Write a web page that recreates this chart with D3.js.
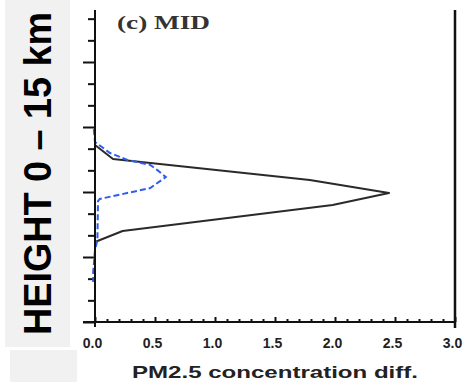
<!DOCTYPE html>
<html>
<head>
<meta charset="utf-8">
<script src="https://cdn.jsdelivr.net/npm/d3@7"></script>
<style>
  html, body { margin: 0; padding: 0; background: #fff; }
  svg { display: block; }
</style>
</head>
<body>
<svg id="chart" width="466" height="382"></svg>
<script>
// Vertical profiles of PM2.5 concentration difference (height in km)
const blackHeights = [9.5, 8.17, 7.52, 6.55, 5.95, 5.40, 4.20, 3.69, 2.5, 1.5, 0.5];
const blackValues  = [0.0, 0.0, 0.15, 1.79, 2.45, 1.98, 0.23, 0.0, 0.0, 0.0, 0.0];

const blueHeights = [8.9, 8.31, 7.80, 7.48, 7.25, 7.01, 6.69, 6.18, 5.68, 5.58, 3.78, 3.32, 2.31, 1.85];
const blueValues  = [-0.01, 0.0, 0.125, 0.27, 0.46, 0.52, 0.59, 0.46, 0.04, 0.025, 0.02, 0.0, -0.015, -0.015];

const xTickValues = [0.0, 0.5, 1.0, 1.5, 2.0, 2.5, 3.0];
const yMajorTicks = [0, 3, 6, 9, 12];
const panelTitle = "(c) MID";
const xTitle = "PM2.5 concentration diff.";
const yTitle = "HEIGHT 0 \u2013 15 km";

const svg = d3.select("#chart");

const x = d3.scaleLinear().domain([0, 3]).range([95, 455]);
const y = d3.scaleLinear().domain([0, 15]).range([322, -3]);
const plotTop = 10;

// clip so nothing is drawn above the frame top
svg.append("defs").append("clipPath").attr("id", "plotClip")
  .append("rect").attr("x", 0).attr("y", plotTop).attr("width", 466).attr("height", 382 - plotTop);

const g = svg.append("g").attr("clip-path", "url(#plotClip)");

// y axis: outward ticks, major every 3 km, minor every 1 km
const yMinor = d3.range(0, 16).filter(v => !yMajorTicks.includes(v));
g.append("g").attr("transform", `translate(${x(0)},0)`)
  .call(d3.axisLeft(y).tickValues(yMinor).tickSize(7).tickFormat(""))
  .call(a => a.select(".domain").remove())
  .call(a => a.selectAll("line").attr("stroke", "#111").attr("stroke-width", 2));
g.append("g").attr("transform", `translate(${x(0)},0)`)
  .call(d3.axisLeft(y).tickValues(yMajorTicks).tickSize(12).tickFormat(""))
  .call(a => a.select(".domain").remove())
  .call(a => a.selectAll("line").attr("stroke", "#111").attr("stroke-width", 2));

// x axis: inward ticks, minor every 0.1
const xMinor = d3.range(0, 31).map(v => v / 10).filter(v => Math.abs(v * 2 - Math.round(v * 2)) > 1e-6);
const xAxisG = svg.append("g").attr("transform", `translate(0,${y(0)})`);
xAxisG.call(d3.axisBottom(x).tickValues(xMinor).tickSize(-3).tickFormat(""))
  .call(a => a.select(".domain").remove())
  .call(a => a.selectAll("line").attr("stroke", "#111").attr("stroke-width", 2));
const xMajorG = svg.append("g").attr("transform", `translate(0,${y(0)})`);
xMajorG.call(d3.axisBottom(x).tickValues(xTickValues).tickSize(-5).tickPadding(16).tickFormat(d3.format(".1f")))
  .call(a => a.select(".domain").remove())
  .call(a => a.selectAll("line").attr("stroke", "#111").attr("stroke-width", 2))
  .call(a => a.selectAll("text")
    .attr("font-family", "'Liberation Sans', Arial, sans-serif")
    .attr("font-weight", "bold")
    .attr("font-size", 14)
    .attr("fill", "#222")
    .attr("dx", -3));

// frame lines
svg.append("line").attr("x1", x(0)).attr("x2", x(0)).attr("y1", plotTop).attr("y2", y(0) + 5)
  .attr("stroke", "#111").attr("stroke-width", 2);
svg.append("line").attr("x1", x(3)).attr("x2", x(3)).attr("y1", plotTop).attr("y2", y(0) + 6)
  .attr("stroke", "#111").attr("stroke-width", 2.5);
svg.append("line").attr("x1", x(0) - 12).attr("x2", x(3)).attr("y1", y(0)).attr("y2", y(0))
  .attr("stroke", "#111").attr("stroke-width", 2);

// profiles
const line = d3.line().x(d => x(d[0])).y(d => y(d[1]));
g.append("path")
  .datum(blackValues.map((v, i) => [v, blackHeights[i]]))
  .attr("d", line).attr("fill", "none")
  .attr("stroke", "#2a2a2a").attr("stroke-width", 2).attr("stroke-linejoin", "round");
g.append("path")
  .datum(blueValues.map((v, i) => [v, blueHeights[i]]))
  .attr("d", line).attr("fill", "none")
  .attr("stroke", "#2f5cf0").attr("stroke-width", 2).attr("stroke-dasharray", "6,3");

// panel title
svg.append("text").attr("x", 117).attr("y", 29)
  .attr("font-family", "'Liberation Serif', 'Times New Roman', serif")
  .attr("font-weight", "bold")
  .attr("font-size", 18).attr("fill", "#333")
  .attr("textLength", 93).attr("lengthAdjust", "spacingAndGlyphs")
  .text(panelTitle);

// x axis title
svg.append("text").attr("x", 275).attr("y", 378)
  .attr("text-anchor", "middle")
  .attr("font-family", "'Liberation Sans', Arial, sans-serif")
  .attr("font-weight", "bold").attr("font-size", 17)
  .attr("textLength", 286).attr("lengthAdjust", "spacingAndGlyphs")
  .attr("fill", "#222")
  .text(xTitle);

// side label panel
svg.append("rect").attr("x", 5).attr("y", 0).attr("width", 65).attr("height", 347).attr("fill", "#f1f1f1");
svg.append("rect").attr("x", 10).attr("y", 350).attr("width", 67).attr("height", 32).attr("fill", "#f1f1f1");
svg.append("text")
  .attr("transform", "translate(51,335) rotate(-90)")
  .attr("font-family", "'Liberation Sans', Arial, sans-serif")
  .attr("font-weight", "bold").attr("font-size", 38)
  .attr("textLength", 323).attr("lengthAdjust", "spacingAndGlyphs")
  .attr("fill", "#000")
  .text(yTitle);
</script>
</body>
</html>
